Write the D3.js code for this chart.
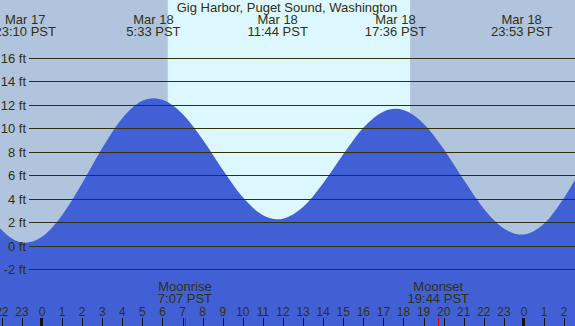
<!DOCTYPE html>
<html><head><meta charset="utf-8">
<script src="https://cdn.jsdelivr.net/npm/d3@7"></script>
<style>
html,body{margin:0;padding:0;overflow:hidden;background:#b0c4de;}
text{font-family:"Liberation Sans",Arial,sans-serif;}
</style></head>
<body><svg id="c" width="575" height="326"></svg>
<script>
// Hours relative to Mar 18 00:00 PST
const hours   = [-3,-2,-1,0,1,2,3,4,5,6,7,8,9,10,11,12,13,14,15,16,17,18,19,20,21,22,23,24,25,26,27];
const heights = [3.77,1.38,0.32,0.81,2.64,5.37,8.36,10.90,12.38,12.47,11.27,9.10,6.52,4.17,2.65,2.35,3.34,5.36,7.83,10.08,11.46,11.59,10.44,8.29,5.66,3.20,1.51,1.01,1.94,4.14,7.02];
const extremeHours   = [-0.833, 5.55, 11.733, 17.6, 23.883];
const extremeHeights = [0.3, 12.6, 2.3, 11.7, 1.0];
const extremeDates   = ["Mar 17","Mar 18","Mar 18","Mar 18","Mar 18"];
const extremeTimes   = ["23:10 PST","5:33 PST","11:44 PST","17:36 PST","23:53 PST"];
const yTicks = [-2,0,2,4,6,8,10,12,14,16];
const hourTicks = [-2,-1,0,1,2,3,4,5,6,7,8,9,10,11,12,13,14,15,16,17,18,19,20,21,22,23,24,25,26];
const sunrise = 6.26, sunset = 18.33;
const moonEvents = [{h:7.117, name:"Moonrise", time:"7:07 PST"},{h:19.733, name:"Moonset", time:"19:44 PST"}];
const title = "Gig Harbor, Puget Sound, Washington";

const W=575,H=326;
const svg=d3.select("#c");
const x=d3.scaleLinear().domain([-2.091,26.54]).range([0,W]);
const y=d3.scaleLinear().domain([0,16]).range([246.3,58.3]);
const ink="#303010";

svg.append("rect").attr("width",W).attr("height",H).attr("fill","#b0c4de");
svg.append("rect").attr("x",x(sunrise)).attr("y",0).attr("width",x(sunset)-x(sunrise)).attr("height",H).attr("fill","#ddf7ff");

const pts=hours.map((h,i)=>({h,v:heights[i]}))
  .concat(extremeHours.map((h,i)=>({h,v:extremeHeights[i]})))
  .sort((a,b)=>a.h-b.h);
const area=d3.area().x(d=>x(d.h)).y0(H).y1(d=>y(d.v)).curve(d3.curveMonotoneX);
svg.append("path").datum(pts).attr("d",area).attr("fill","#4160d6");

// grid + y labels
yTicks.forEach(v=>{
  const yy=Math.floor(y(v))+0.5;
  svg.append("line").attr("x1",29).attr("x2",W).attr("y1",yy).attr("y2",yy).attr("stroke",ink).attr("stroke-width",1);
  svg.append("text").attr("x",26).attr("y",yy+4.5).attr("text-anchor","end").attr("font-size",13).attr("fill",ink).text(v+" ft");
});

// title
svg.append("text").attr("x",287).attr("y",12).attr("text-anchor","middle").attr("font-size",13).attr("fill",ink).text(title);

// extremes labels
extremeHours.forEach((h,i)=>{
  svg.append("text").attr("x",x(h)).attr("y",24).attr("text-anchor","middle").attr("font-size",13).attr("fill",ink).text(extremeDates[i]);
  svg.append("text").attr("x",x(h)).attr("y",36).attr("text-anchor","middle").attr("font-size",13).attr("fill",ink).text(extremeTimes[i]);
});

// hour ticks
hourTicks.forEach(h=>{
  const xx=Math.round(x(h))+0.5;
  const lab=((h%24)+24)%24;
  svg.append("text").attr("x",x(h)).attr("y",316).attr("text-anchor","middle").attr("font-size",12).attr("fill",ink).text(lab);
  if(lab===0){
    svg.append("rect").attr("x",Math.round(x(h))-2).attr("y",318).attr("width",3).attr("height",8).attr("fill","#111");
  } else {
    svg.append("line").attr("x1",xx).attr("x2",xx).attr("y1",318).attr("y2",H).attr("stroke","#111").attr("stroke-width",1);
  }
});

// moon events
moonEvents.forEach(m=>{
  const xx=Math.round(x(m.h))+0.5;
  svg.append("line").attr("x1",xx).attr("x2",xx).attr("y1",318).attr("y2",H).attr("stroke","#e00000").attr("stroke-width",1);
  svg.append("text").attr("x",x(m.h)).attr("y",291).attr("text-anchor","middle").attr("font-size",13).attr("fill",ink).text(m.name);
  svg.append("text").attr("x",x(m.h)).attr("y",303).attr("text-anchor","middle").attr("font-size",13).attr("fill",ink).text(m.time);
});
</script></body></html>
